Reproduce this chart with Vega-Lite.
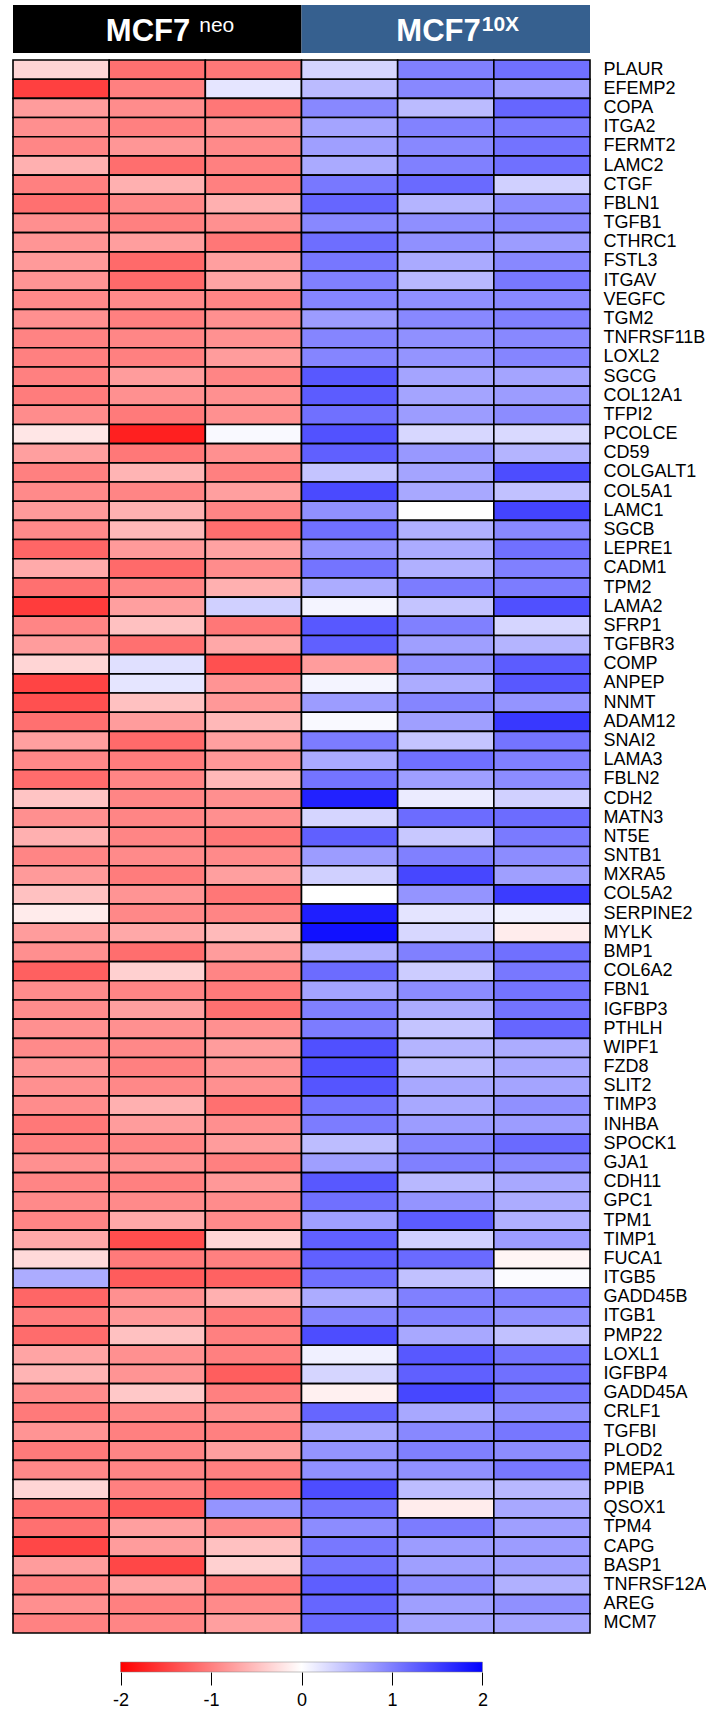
{
  "$schema": "https://vega.github.io/schema/vega-lite/v6.json",
  "background": "white",
  "padding": {"left": 12, "top": 5, "right": 0, "bottom": 0},
  "config": {"view": {"stroke": null}, "font": "Liberation Sans"},
  "bounds": "full",
  "spacing": 27,
  "vconcat": [
    {
      "bounds": "flush",
      "spacing": 7,
      "vconcat": [
        {
          "width": 577,
          "height": 48,
          "data": {"values": [
            {"group": "neo", "name": "MCF7", "sup": "neo"},
            {"group": "10X", "name": "MCF7", "sup": "10X"}
          ]},
          "encoding": {
            "x": {"field": "group", "type": "nominal", "sort": null, "axis": null,
                  "scale": {"paddingInner": 0, "paddingOuter": 0}}
          },
          "layer": [
            {
              "mark": {"type": "rect"},
              "encoding": {
                "color": {"field": "group", "type": "nominal",
                          "scale": {"domain": ["neo", "10X"], "range": ["#000000", "#36608f"]},
                          "legend": null}
              }
            },
            {
              "transform": [{"filter": "datum.group === 'neo'"}],
              "mark": {"type": "text", "align": "right", "baseline": "alphabetic", "dx": 33, "dy": 12,
                       "fontSize": 31, "fontWeight": "bold", "color": "white", "font": "Liberation Sans"},
              "encoding": {"text": {"field": "name"}}
            },
            {
              "transform": [{"filter": "datum.group === '10X'"}],
              "mark": {"type": "text", "align": "right", "baseline": "alphabetic", "dx": 35, "dy": 12,
                       "fontSize": 31, "fontWeight": "bold", "color": "white", "font": "Liberation Sans"},
              "encoding": {"text": {"field": "name"}}
            },
            {
              "transform": [{"filter": "datum.group === 'neo'"}],
              "mark": {"type": "text", "align": "left", "baseline": "alphabetic", "dx": 42, "dy": 3,
                       "fontSize": 21, "color": "white", "font": "Liberation Sans"},
              "encoding": {"text": {"field": "sup"}}
            },
            {
              "transform": [{"filter": "datum.group === '10X'"}],
              "mark": {"type": "text", "align": "left", "baseline": "alphabetic", "dx": 36, "dy": 2,
                       "fontSize": 21, "fontWeight": "bold", "color": "white", "font": "Liberation Sans"},
              "encoding": {"text": {"field": "sup"}}
            }
          ]
        },
        {
          "width": 577,
          "height": 1573,
          "data": {"values": [
{"gene":"PLAUR","sample":"neo_1","z":-0.33},{"gene":"PLAUR","sample":"neo_2","z":-1.12},{"gene":"PLAUR","sample":"neo_3","z":-1.06},{"gene":"PLAUR","sample":"10X_1","z":0.33},{"gene":"PLAUR","sample":"10X_2","z":1.0},{"gene":"PLAUR","sample":"10X_3","z":1.12},
{"gene":"EFEMP2","sample":"neo_1","z":-1.5},{"gene":"EFEMP2","sample":"neo_2","z":-1.0},{"gene":"EFEMP2","sample":"neo_3","z":0.2},{"gene":"EFEMP2","sample":"10X_1","z":0.53},{"gene":"EFEMP2","sample":"10X_2","z":0.93},{"gene":"EFEMP2","sample":"10X_3","z":0.75},
{"gene":"COPA","sample":"neo_1","z":-0.78},{"gene":"COPA","sample":"neo_2","z":-0.9},{"gene":"COPA","sample":"neo_3","z":-1.07},{"gene":"COPA","sample":"10X_1","z":0.93},{"gene":"COPA","sample":"10X_2","z":0.53},{"gene":"COPA","sample":"10X_3","z":1.2},
{"gene":"ITGA2","sample":"neo_1","z":-0.88},{"gene":"ITGA2","sample":"neo_2","z":-1.0},{"gene":"ITGA2","sample":"neo_3","z":-0.88},{"gene":"ITGA2","sample":"10X_1","z":0.71},{"gene":"ITGA2","sample":"10X_2","z":0.98},{"gene":"ITGA2","sample":"10X_3","z":1.04},
{"gene":"FERMT2","sample":"neo_1","z":-0.95},{"gene":"FERMT2","sample":"neo_2","z":-0.82},{"gene":"FERMT2","sample":"neo_3","z":-0.92},{"gene":"FERMT2","sample":"10X_1","z":0.75},{"gene":"FERMT2","sample":"10X_2","z":0.93},{"gene":"FERMT2","sample":"10X_3","z":1.1},
{"gene":"LAMC2","sample":"neo_1","z":-0.62},{"gene":"LAMC2","sample":"neo_2","z":-1.14},{"gene":"LAMC2","sample":"neo_3","z":-1.0},{"gene":"LAMC2","sample":"10X_1","z":0.67},{"gene":"LAMC2","sample":"10X_2","z":1.0},{"gene":"LAMC2","sample":"10X_3","z":1.12},
{"gene":"CTGF","sample":"neo_1","z":-1.0},{"gene":"CTGF","sample":"neo_2","z":-0.62},{"gene":"CTGF","sample":"neo_3","z":-1.0},{"gene":"CTGF","sample":"10X_1","z":1.06},{"gene":"CTGF","sample":"10X_2","z":1.17},{"gene":"CTGF","sample":"10X_3","z":0.37},
{"gene":"FBLN1","sample":"neo_1","z":-1.12},{"gene":"FBLN1","sample":"neo_2","z":-0.93},{"gene":"FBLN1","sample":"neo_3","z":-0.62},{"gene":"FBLN1","sample":"10X_1","z":1.2},{"gene":"FBLN1","sample":"10X_2","z":0.59},{"gene":"FBLN1","sample":"10X_3","z":0.9},
{"gene":"TGFB1","sample":"neo_1","z":-0.88},{"gene":"TGFB1","sample":"neo_2","z":-1.0},{"gene":"TGFB1","sample":"neo_3","z":-0.87},{"gene":"TGFB1","sample":"10X_1","z":0.93},{"gene":"TGFB1","sample":"10X_2","z":0.88},{"gene":"TGFB1","sample":"10X_3","z":0.93},
{"gene":"CTHRC1","sample":"neo_1","z":-0.83},{"gene":"CTHRC1","sample":"neo_2","z":-0.76},{"gene":"CTHRC1","sample":"neo_3","z":-1.07},{"gene":"CTHRC1","sample":"10X_1","z":1.14},{"gene":"CTHRC1","sample":"10X_2","z":0.87},{"gene":"CTHRC1","sample":"10X_3","z":0.78},
{"gene":"FSTL3","sample":"neo_1","z":-0.79},{"gene":"FSTL3","sample":"neo_2","z":-1.17},{"gene":"FSTL3","sample":"neo_3","z":-0.75},{"gene":"FSTL3","sample":"10X_1","z":1.07},{"gene":"FSTL3","sample":"10X_2","z":0.67},{"gene":"FSTL3","sample":"10X_3","z":0.93},
{"gene":"ITGAV","sample":"neo_1","z":-0.84},{"gene":"ITGAV","sample":"neo_2","z":-1.17},{"gene":"ITGAV","sample":"neo_3","z":-0.71},{"gene":"ITGAV","sample":"10X_1","z":1.0},{"gene":"ITGAV","sample":"10X_2","z":0.56},{"gene":"ITGAV","sample":"10X_3","z":1.06},
{"gene":"VEGFC","sample":"neo_1","z":-0.92},{"gene":"VEGFC","sample":"neo_2","z":-0.92},{"gene":"VEGFC","sample":"neo_3","z":-0.96},{"gene":"VEGFC","sample":"10X_1","z":0.96},{"gene":"VEGFC","sample":"10X_2","z":0.87},{"gene":"VEGFC","sample":"10X_3","z":0.93},
{"gene":"TGM2","sample":"neo_1","z":-0.87},{"gene":"TGM2","sample":"neo_2","z":-1.0},{"gene":"TGM2","sample":"neo_3","z":-0.87},{"gene":"TGM2","sample":"10X_1","z":0.78},{"gene":"TGM2","sample":"10X_2","z":0.93},{"gene":"TGM2","sample":"10X_3","z":1.0},
{"gene":"TNFRSF11B","sample":"neo_1","z":-0.97},{"gene":"TNFRSF11B","sample":"neo_2","z":-0.95},{"gene":"TNFRSF11B","sample":"neo_3","z":-0.86},{"gene":"TNFRSF11B","sample":"10X_1","z":0.96},{"gene":"TNFRSF11B","sample":"10X_2","z":0.87},{"gene":"TNFRSF11B","sample":"10X_3","z":0.93},
{"gene":"LOXL2","sample":"neo_1","z":-1.0},{"gene":"LOXL2","sample":"neo_2","z":-1.0},{"gene":"LOXL2","sample":"neo_3","z":-0.78},{"gene":"LOXL2","sample":"10X_1","z":0.96},{"gene":"LOXL2","sample":"10X_2","z":0.84},{"gene":"LOXL2","sample":"10X_3","z":0.96},
{"gene":"SGCG","sample":"neo_1","z":-1.0},{"gene":"SGCG","sample":"neo_2","z":-0.78},{"gene":"SGCG","sample":"neo_3","z":-0.96},{"gene":"SGCG","sample":"10X_1","z":1.31},{"gene":"SGCG","sample":"10X_2","z":0.71},{"gene":"SGCG","sample":"10X_3","z":0.71},
{"gene":"COL12A1","sample":"neo_1","z":-1.03},{"gene":"COL12A1","sample":"neo_2","z":-0.87},{"gene":"COL12A1","sample":"neo_3","z":-0.87},{"gene":"COL12A1","sample":"10X_1","z":1.28},{"gene":"COL12A1","sample":"10X_2","z":0.71},{"gene":"COL12A1","sample":"10X_3","z":0.78},
{"gene":"TFPI2","sample":"neo_1","z":-0.9},{"gene":"TFPI2","sample":"neo_2","z":-1.04},{"gene":"TFPI2","sample":"neo_3","z":-0.87},{"gene":"TFPI2","sample":"10X_1","z":1.12},{"gene":"TFPI2","sample":"10X_2","z":0.78},{"gene":"TFPI2","sample":"10X_3","z":0.9},
{"gene":"PCOLCE","sample":"neo_1","z":-0.2},{"gene":"PCOLCE","sample":"neo_2","z":-1.75},{"gene":"PCOLCE","sample":"neo_3","z":0.05},{"gene":"PCOLCE","sample":"10X_1","z":1.36},{"gene":"PCOLCE","sample":"10X_2","z":0.31},{"gene":"PCOLCE","sample":"10X_3","z":0.3},
{"gene":"CD59","sample":"neo_1","z":-0.75},{"gene":"CD59","sample":"neo_2","z":-1.06},{"gene":"CD59","sample":"neo_3","z":-0.87},{"gene":"CD59","sample":"10X_1","z":1.25},{"gene":"CD59","sample":"10X_2","z":0.81},{"gene":"CD59","sample":"10X_3","z":0.59},
{"gene":"COLGALT1","sample":"neo_1","z":-1.0},{"gene":"COLGALT1","sample":"neo_2","z":-0.59},{"gene":"COLGALT1","sample":"neo_3","z":-1.0},{"gene":"COLGALT1","sample":"10X_1","z":0.46},{"gene":"COLGALT1","sample":"10X_2","z":0.71},{"gene":"COLGALT1","sample":"10X_3","z":1.4},
{"gene":"COL5A1","sample":"neo_1","z":-0.92},{"gene":"COL5A1","sample":"neo_2","z":-0.96},{"gene":"COL5A1","sample":"neo_3","z":-0.75},{"gene":"COL5A1","sample":"10X_1","z":1.42},{"gene":"COL5A1","sample":"10X_2","z":0.68},{"gene":"COL5A1","sample":"10X_3","z":0.49},
{"gene":"LAMC1","sample":"neo_1","z":-0.79},{"gene":"LAMC1","sample":"neo_2","z":-0.62},{"gene":"LAMC1","sample":"neo_3","z":-0.96},{"gene":"LAMC1","sample":"10X_1","z":0.87},{"gene":"LAMC1","sample":"10X_2","z":0.0},{"gene":"LAMC1","sample":"10X_3","z":1.47},
{"gene":"SGCB","sample":"neo_1","z":-0.92},{"gene":"SGCB","sample":"neo_2","z":-0.56},{"gene":"SGCB","sample":"neo_3","z":-1.14},{"gene":"SGCB","sample":"10X_1","z":1.12},{"gene":"SGCB","sample":"10X_2","z":0.62},{"gene":"SGCB","sample":"10X_3","z":0.93},
{"gene":"LEPRE1","sample":"neo_1","z":-1.2},{"gene":"LEPRE1","sample":"neo_2","z":-0.79},{"gene":"LEPRE1","sample":"neo_3","z":-0.73},{"gene":"LEPRE1","sample":"10X_1","z":0.84},{"gene":"LEPRE1","sample":"10X_2","z":0.65},{"gene":"LEPRE1","sample":"10X_3","z":1.12},
{"gene":"CADM1","sample":"neo_1","z":-0.67},{"gene":"CADM1","sample":"neo_2","z":-1.17},{"gene":"CADM1","sample":"neo_3","z":-0.9},{"gene":"CADM1","sample":"10X_1","z":1.09},{"gene":"CADM1","sample":"10X_2","z":0.62},{"gene":"CADM1","sample":"10X_3","z":1.0},
{"gene":"TPM2","sample":"neo_1","z":-1.12},{"gene":"TPM2","sample":"neo_2","z":-0.96},{"gene":"TPM2","sample":"neo_3","z":-0.62},{"gene":"TPM2","sample":"10X_1","z":0.65},{"gene":"TPM2","sample":"10X_2","z":1.03},{"gene":"TPM2","sample":"10X_3","z":1.03},
{"gene":"LAMA2","sample":"neo_1","z":-1.53},{"gene":"LAMA2","sample":"neo_2","z":-0.75},{"gene":"LAMA2","sample":"neo_3","z":0.37},{"gene":"LAMA2","sample":"10X_1","z":0.09},{"gene":"LAMA2","sample":"10X_2","z":0.46},{"gene":"LAMA2","sample":"10X_3","z":1.37},
{"gene":"SFRP1","sample":"neo_1","z":-0.96},{"gene":"SFRP1","sample":"neo_2","z":-0.49},{"gene":"SFRP1","sample":"neo_3","z":-1.07},{"gene":"SFRP1","sample":"10X_1","z":1.31},{"gene":"SFRP1","sample":"10X_2","z":1.0},{"gene":"SFRP1","sample":"10X_3","z":0.33},
{"gene":"TGFBR3","sample":"neo_1","z":-0.78},{"gene":"TGFBR3","sample":"neo_2","z":-1.12},{"gene":"TGFBR3","sample":"neo_3","z":-0.68},{"gene":"TGFBR3","sample":"10X_1","z":1.25},{"gene":"TGFBR3","sample":"10X_2","z":0.75},{"gene":"TGFBR3","sample":"10X_3","z":0.59},
{"gene":"COMP","sample":"neo_1","z":-0.33},{"gene":"COMP","sample":"neo_2","z":0.24},{"gene":"COMP","sample":"neo_3","z":-1.37},{"gene":"COMP","sample":"10X_1","z":-0.78},{"gene":"COMP","sample":"10X_2","z":0.87},{"gene":"COMP","sample":"10X_3","z":1.28},
{"gene":"ANPEP","sample":"neo_1","z":-1.47},{"gene":"ANPEP","sample":"neo_2","z":0.2},{"gene":"ANPEP","sample":"neo_3","z":-0.84},{"gene":"ANPEP","sample":"10X_1","z":0.09},{"gene":"ANPEP","sample":"10X_2","z":0.65},{"gene":"ANPEP","sample":"10X_3","z":1.31},
{"gene":"NNMT","sample":"neo_1","z":-1.37},{"gene":"NNMT","sample":"neo_2","z":-0.49},{"gene":"NNMT","sample":"neo_3","z":-0.81},{"gene":"NNMT","sample":"10X_1","z":0.78},{"gene":"NNMT","sample":"10X_2","z":0.96},{"gene":"NNMT","sample":"10X_3","z":0.84},
{"gene":"ADAM12","sample":"neo_1","z":-1.12},{"gene":"ADAM12","sample":"neo_2","z":-0.78},{"gene":"ADAM12","sample":"neo_3","z":-0.56},{"gene":"ADAM12","sample":"10X_1","z":0.05},{"gene":"ADAM12","sample":"10X_2","z":0.75},{"gene":"ADAM12","sample":"10X_3","z":1.56},
{"gene":"SNAI2","sample":"neo_1","z":-0.75},{"gene":"SNAI2","sample":"neo_2","z":-1.17},{"gene":"SNAI2","sample":"neo_3","z":-0.75},{"gene":"SNAI2","sample":"10X_1","z":1.03},{"gene":"SNAI2","sample":"10X_2","z":0.46},{"gene":"SNAI2","sample":"10X_3","z":1.09},
{"gene":"LAMA3","sample":"neo_1","z":-0.93},{"gene":"LAMA3","sample":"neo_2","z":-1.03},{"gene":"LAMA3","sample":"neo_3","z":-0.81},{"gene":"LAMA3","sample":"10X_1","z":0.67},{"gene":"LAMA3","sample":"10X_2","z":1.12},{"gene":"LAMA3","sample":"10X_3","z":1.0},
{"gene":"FBLN2","sample":"neo_1","z":-1.15},{"gene":"FBLN2","sample":"neo_2","z":-0.96},{"gene":"FBLN2","sample":"neo_3","z":-0.56},{"gene":"FBLN2","sample":"10X_1","z":1.09},{"gene":"FBLN2","sample":"10X_2","z":0.75},{"gene":"FBLN2","sample":"10X_3","z":0.9},
{"gene":"CDH2","sample":"neo_1","z":-0.46},{"gene":"CDH2","sample":"neo_2","z":-0.96},{"gene":"CDH2","sample":"neo_3","z":-0.88},{"gene":"CDH2","sample":"10X_1","z":1.73},{"gene":"CDH2","sample":"10X_2","z":0.16},{"gene":"CDH2","sample":"10X_3","z":0.37},
{"gene":"MATN3","sample":"neo_1","z":-0.88},{"gene":"MATN3","sample":"neo_2","z":-0.96},{"gene":"MATN3","sample":"neo_3","z":-0.88},{"gene":"MATN3","sample":"10X_1","z":0.33},{"gene":"MATN3","sample":"10X_2","z":1.15},{"gene":"MATN3","sample":"10X_3","z":1.15},
{"gene":"NT5E","sample":"neo_1","z":-0.62},{"gene":"NT5E","sample":"neo_2","z":-0.96},{"gene":"NT5E","sample":"neo_3","z":-1.06},{"gene":"NT5E","sample":"10X_1","z":1.25},{"gene":"NT5E","sample":"10X_2","z":0.43},{"gene":"NT5E","sample":"10X_3","z":1.04},
{"gene":"SNTB1","sample":"neo_1","z":-0.96},{"gene":"SNTB1","sample":"neo_2","z":-0.92},{"gene":"SNTB1","sample":"neo_3","z":-0.92},{"gene":"SNTB1","sample":"10X_1","z":0.78},{"gene":"SNTB1","sample":"10X_2","z":1.0},{"gene":"SNTB1","sample":"10X_3","z":0.9},
{"gene":"MXRA5","sample":"neo_1","z":-0.79},{"gene":"MXRA5","sample":"neo_2","z":-1.03},{"gene":"MXRA5","sample":"neo_3","z":-0.75},{"gene":"MXRA5","sample":"10X_1","z":0.37},{"gene":"MXRA5","sample":"10X_2","z":1.44},{"gene":"MXRA5","sample":"10X_3","z":0.75},
{"gene":"COL5A2","sample":"neo_1","z":-0.49},{"gene":"COL5A2","sample":"neo_2","z":-0.84},{"gene":"COL5A2","sample":"neo_3","z":-1.07},{"gene":"COL5A2","sample":"10X_1","z":0.0},{"gene":"COL5A2","sample":"10X_2","z":0.84},{"gene":"COL5A2","sample":"10X_3","z":1.53},
{"gene":"SERPINE2","sample":"neo_1","z":-0.16},{"gene":"SERPINE2","sample":"neo_2","z":-0.93},{"gene":"SERPINE2","sample":"neo_3","z":-0.96},{"gene":"SERPINE2","sample":"10X_1","z":1.76},{"gene":"SERPINE2","sample":"10X_2","z":0.21},{"gene":"SERPINE2","sample":"10X_3","z":0.12},
{"gene":"MYLK","sample":"neo_1","z":-0.78},{"gene":"MYLK","sample":"neo_2","z":-0.68},{"gene":"MYLK","sample":"neo_3","z":-0.54},{"gene":"MYLK","sample":"10X_1","z":1.87},{"gene":"MYLK","sample":"10X_2","z":0.31},{"gene":"MYLK","sample":"10X_3","z":-0.15},
{"gene":"BMP1","sample":"neo_1","z":-0.88},{"gene":"BMP1","sample":"neo_2","z":-1.14},{"gene":"BMP1","sample":"neo_3","z":-0.78},{"gene":"BMP1","sample":"10X_1","z":0.62},{"gene":"BMP1","sample":"10X_2","z":1.0},{"gene":"BMP1","sample":"10X_3","z":1.12},
{"gene":"COL6A2","sample":"neo_1","z":-1.25},{"gene":"COL6A2","sample":"neo_2","z":-0.37},{"gene":"COL6A2","sample":"neo_3","z":-0.96},{"gene":"COL6A2","sample":"10X_1","z":1.15},{"gene":"COL6A2","sample":"10X_2","z":0.4},{"gene":"COL6A2","sample":"10X_3","z":1.06},
{"gene":"FBN1","sample":"neo_1","z":-0.9},{"gene":"FBN1","sample":"neo_2","z":-0.96},{"gene":"FBN1","sample":"neo_3","z":-1.04},{"gene":"FBN1","sample":"10X_1","z":0.71},{"gene":"FBN1","sample":"10X_2","z":0.9},{"gene":"FBN1","sample":"10X_3","z":1.09},
{"gene":"IGFBP3","sample":"neo_1","z":-0.9},{"gene":"IGFBP3","sample":"neo_2","z":-0.75},{"gene":"IGFBP3","sample":"neo_3","z":-1.12},{"gene":"IGFBP3","sample":"10X_1","z":1.0},{"gene":"IGFBP3","sample":"10X_2","z":0.65},{"gene":"IGFBP3","sample":"10X_3","z":1.1},
{"gene":"PTHLH","sample":"neo_1","z":-0.87},{"gene":"PTHLH","sample":"neo_2","z":-0.87},{"gene":"PTHLH","sample":"neo_3","z":-0.87},{"gene":"PTHLH","sample":"10X_1","z":1.03},{"gene":"PTHLH","sample":"10X_2","z":0.46},{"gene":"PTHLH","sample":"10X_3","z":1.2},
{"gene":"WIPF1","sample":"neo_1","z":-0.92},{"gene":"WIPF1","sample":"neo_2","z":-0.93},{"gene":"WIPF1","sample":"neo_3","z":-0.78},{"gene":"WIPF1","sample":"10X_1","z":1.37},{"gene":"WIPF1","sample":"10X_2","z":0.59},{"gene":"WIPF1","sample":"10X_3","z":0.65},
{"gene":"FZD8","sample":"neo_1","z":-0.84},{"gene":"FZD8","sample":"neo_2","z":-1.0},{"gene":"FZD8","sample":"neo_3","z":-0.84},{"gene":"FZD8","sample":"10X_1","z":1.37},{"gene":"FZD8","sample":"10X_2","z":0.53},{"gene":"FZD8","sample":"10X_3","z":0.68},
{"gene":"SLIT2","sample":"neo_1","z":-0.87},{"gene":"SLIT2","sample":"neo_2","z":-0.93},{"gene":"SLIT2","sample":"neo_3","z":-0.87},{"gene":"SLIT2","sample":"10X_1","z":1.33},{"gene":"SLIT2","sample":"10X_2","z":0.68},{"gene":"SLIT2","sample":"10X_3","z":0.71},
{"gene":"TIMP3","sample":"neo_1","z":-0.9},{"gene":"TIMP3","sample":"neo_2","z":-0.62},{"gene":"TIMP3","sample":"neo_3","z":-1.12},{"gene":"TIMP3","sample":"10X_1","z":1.09},{"gene":"TIMP3","sample":"10X_2","z":0.68},{"gene":"TIMP3","sample":"10X_3","z":0.87},
{"gene":"INHBA","sample":"neo_1","z":-1.06},{"gene":"INHBA","sample":"neo_2","z":-0.78},{"gene":"INHBA","sample":"neo_3","z":-0.88},{"gene":"INHBA","sample":"10X_1","z":1.03},{"gene":"INHBA","sample":"10X_2","z":0.78},{"gene":"INHBA","sample":"10X_3","z":0.78},
{"gene":"SPOCK1","sample":"neo_1","z":-1.0},{"gene":"SPOCK1","sample":"neo_2","z":-0.96},{"gene":"SPOCK1","sample":"neo_3","z":-0.78},{"gene":"SPOCK1","sample":"10X_1","z":0.52},{"gene":"SPOCK1","sample":"10X_2","z":0.96},{"gene":"SPOCK1","sample":"10X_3","z":1.17},
{"gene":"GJA1","sample":"neo_1","z":-0.87},{"gene":"GJA1","sample":"neo_2","z":-0.88},{"gene":"GJA1","sample":"neo_3","z":-1.0},{"gene":"GJA1","sample":"10X_1","z":0.75},{"gene":"GJA1","sample":"10X_2","z":1.0},{"gene":"GJA1","sample":"10X_3","z":0.93},
{"gene":"CDH11","sample":"neo_1","z":-0.96},{"gene":"CDH11","sample":"neo_2","z":-1.0},{"gene":"CDH11","sample":"neo_3","z":-0.81},{"gene":"CDH11","sample":"10X_1","z":1.31},{"gene":"CDH11","sample":"10X_2","z":0.56},{"gene":"CDH11","sample":"10X_3","z":0.68},
{"gene":"GPC1","sample":"neo_1","z":-0.92},{"gene":"GPC1","sample":"neo_2","z":-0.92},{"gene":"GPC1","sample":"neo_3","z":-0.9},{"gene":"GPC1","sample":"10X_1","z":1.12},{"gene":"GPC1","sample":"10X_2","z":0.84},{"gene":"GPC1","sample":"10X_3","z":0.65},
{"gene":"TPM1","sample":"neo_1","z":-0.96},{"gene":"TPM1","sample":"neo_2","z":-0.68},{"gene":"TPM1","sample":"neo_3","z":-0.92},{"gene":"TPM1","sample":"10X_1","z":0.75},{"gene":"TPM1","sample":"10X_2","z":1.28},{"gene":"TPM1","sample":"10X_3","z":0.62},
{"gene":"TIMP1","sample":"neo_1","z":-0.68},{"gene":"TIMP1","sample":"neo_2","z":-1.4},{"gene":"TIMP1","sample":"neo_3","z":-0.33},{"gene":"TIMP1","sample":"10X_1","z":1.25},{"gene":"TIMP1","sample":"10X_2","z":0.37},{"gene":"TIMP1","sample":"10X_3","z":0.78},
{"gene":"FUCA1","sample":"neo_1","z":-0.3},{"gene":"FUCA1","sample":"neo_2","z":-1.04},{"gene":"FUCA1","sample":"neo_3","z":-1.0},{"gene":"FUCA1","sample":"10X_1","z":1.25},{"gene":"FUCA1","sample":"10X_2","z":1.17},{"gene":"FUCA1","sample":"10X_3","z":-0.08},
{"gene":"ITGB5","sample":"neo_1","z":0.65},{"gene":"ITGB5","sample":"neo_2","z":-1.28},{"gene":"ITGB5","sample":"neo_3","z":-1.23},{"gene":"ITGB5","sample":"10X_1","z":1.12},{"gene":"ITGB5","sample":"10X_2","z":0.49},{"gene":"ITGB5","sample":"10X_3","z":0.03},
{"gene":"GADD45B","sample":"neo_1","z":-1.2},{"gene":"GADD45B","sample":"neo_2","z":-0.87},{"gene":"GADD45B","sample":"neo_3","z":-0.62},{"gene":"GADD45B","sample":"10X_1","z":0.65},{"gene":"GADD45B","sample":"10X_2","z":1.0},{"gene":"GADD45B","sample":"10X_3","z":1.0},
{"gene":"ITGB1","sample":"neo_1","z":-1.03},{"gene":"ITGB1","sample":"neo_2","z":-0.81},{"gene":"ITGB1","sample":"neo_3","z":-1.04},{"gene":"ITGB1","sample":"10X_1","z":0.96},{"gene":"ITGB1","sample":"10X_2","z":1.0},{"gene":"ITGB1","sample":"10X_3","z":0.87},
{"gene":"PMP22","sample":"neo_1","z":-1.15},{"gene":"PMP22","sample":"neo_2","z":-0.49},{"gene":"PMP22","sample":"neo_3","z":-1.0},{"gene":"PMP22","sample":"10X_1","z":1.4},{"gene":"PMP22","sample":"10X_2","z":0.68},{"gene":"PMP22","sample":"10X_3","z":0.49},
{"gene":"LOXL1","sample":"neo_1","z":-0.71},{"gene":"LOXL1","sample":"neo_2","z":-0.87},{"gene":"LOXL1","sample":"neo_3","z":-1.0},{"gene":"LOXL1","sample":"10X_1","z":0.12},{"gene":"LOXL1","sample":"10X_2","z":1.31},{"gene":"LOXL1","sample":"10X_3","z":1.09},
{"gene":"IGFBP4","sample":"neo_1","z":-0.59},{"gene":"IGFBP4","sample":"neo_2","z":-0.84},{"gene":"IGFBP4","sample":"neo_3","z":-1.26},{"gene":"IGFBP4","sample":"10X_1","z":0.33},{"gene":"IGFBP4","sample":"10X_2","z":1.25},{"gene":"IGFBP4","sample":"10X_3","z":1.12},
{"gene":"GADD45A","sample":"neo_1","z":-0.9},{"gene":"GADD45A","sample":"neo_2","z":-0.43},{"gene":"GADD45A","sample":"neo_3","z":-1.0},{"gene":"GADD45A","sample":"10X_1","z":-0.12},{"gene":"GADD45A","sample":"10X_2","z":1.44},{"gene":"GADD45A","sample":"10X_3","z":1.07},
{"gene":"CRLF1","sample":"neo_1","z":-1.04},{"gene":"CRLF1","sample":"neo_2","z":-0.93},{"gene":"CRLF1","sample":"neo_3","z":-0.88},{"gene":"CRLF1","sample":"10X_1","z":1.2},{"gene":"CRLF1","sample":"10X_2","z":0.68},{"gene":"CRLF1","sample":"10X_3","z":0.87},
{"gene":"TGFBI","sample":"neo_1","z":-0.84},{"gene":"TGFBI","sample":"neo_2","z":-1.0},{"gene":"TGFBI","sample":"neo_3","z":-1.0},{"gene":"TGFBI","sample":"10X_1","z":0.68},{"gene":"TGFBI","sample":"10X_2","z":0.93},{"gene":"TGFBI","sample":"10X_3","z":1.07},
{"gene":"PLOD2","sample":"neo_1","z":-1.04},{"gene":"PLOD2","sample":"neo_2","z":-0.96},{"gene":"PLOD2","sample":"neo_3","z":-0.75},{"gene":"PLOD2","sample":"10X_1","z":0.84},{"gene":"PLOD2","sample":"10X_2","z":1.0},{"gene":"PLOD2","sample":"10X_3","z":0.9},
{"gene":"PMEPA1","sample":"neo_1","z":-0.93},{"gene":"PMEPA1","sample":"neo_2","z":-0.96},{"gene":"PMEPA1","sample":"neo_3","z":-1.0},{"gene":"PMEPA1","sample":"10X_1","z":0.87},{"gene":"PMEPA1","sample":"10X_2","z":0.87},{"gene":"PMEPA1","sample":"10X_3","z":1.06},
{"gene":"PPIB","sample":"neo_1","z":-0.33},{"gene":"PPIB","sample":"neo_2","z":-1.0},{"gene":"PPIB","sample":"neo_3","z":-1.15},{"gene":"PPIB","sample":"10X_1","z":1.4},{"gene":"PPIB","sample":"10X_2","z":0.52},{"gene":"PPIB","sample":"10X_3","z":0.56},
{"gene":"QSOX1","sample":"neo_1","z":-1.12},{"gene":"QSOX1","sample":"neo_2","z":-1.29},{"gene":"QSOX1","sample":"neo_3","z":0.84},{"gene":"QSOX1","sample":"10X_1","z":1.09},{"gene":"QSOX1","sample":"10X_2","z":-0.15},{"gene":"QSOX1","sample":"10X_3","z":0.68},
{"gene":"TPM4","sample":"neo_1","z":-1.12},{"gene":"TPM4","sample":"neo_2","z":-0.75},{"gene":"TPM4","sample":"neo_3","z":-0.92},{"gene":"TPM4","sample":"10X_1","z":0.9},{"gene":"TPM4","sample":"10X_2","z":1.03},{"gene":"TPM4","sample":"10X_3","z":0.75},
{"gene":"CAPG","sample":"neo_1","z":-1.44},{"gene":"CAPG","sample":"neo_2","z":-0.78},{"gene":"CAPG","sample":"neo_3","z":-0.49},{"gene":"CAPG","sample":"10X_1","z":1.06},{"gene":"CAPG","sample":"10X_2","z":0.78},{"gene":"CAPG","sample":"10X_3","z":0.78},
{"gene":"BASP1","sample":"neo_1","z":-0.78},{"gene":"BASP1","sample":"neo_2","z":-1.44},{"gene":"BASP1","sample":"neo_3","z":-0.37},{"gene":"BASP1","sample":"10X_1","z":1.09},{"gene":"BASP1","sample":"10X_2","z":0.75},{"gene":"BASP1","sample":"10X_3","z":0.75},
{"gene":"TNFRSF12A","sample":"neo_1","z":-1.0},{"gene":"TNFRSF12A","sample":"neo_2","z":-0.71},{"gene":"TNFRSF12A","sample":"neo_3","z":-1.04},{"gene":"TNFRSF12A","sample":"10X_1","z":1.26},{"gene":"TNFRSF12A","sample":"10X_2","z":0.9},{"gene":"TNFRSF12A","sample":"10X_3","z":0.62},
{"gene":"AREG","sample":"neo_1","z":-0.88},{"gene":"AREG","sample":"neo_2","z":-1.0},{"gene":"AREG","sample":"neo_3","z":-0.92},{"gene":"AREG","sample":"10X_1","z":1.2},{"gene":"AREG","sample":"10X_2","z":0.75},{"gene":"AREG","sample":"10X_3","z":0.87},
{"gene":"MCM7","sample":"neo_1","z":-0.98},{"gene":"MCM7","sample":"neo_2","z":-0.96},{"gene":"MCM7","sample":"neo_3","z":-0.75},{"gene":"MCM7","sample":"10X_1","z":1.17},{"gene":"MCM7","sample":"10X_2","z":0.71},{"gene":"MCM7","sample":"10X_3","z":0.71}
          ]},
          "mark": {"type": "rect", "stroke": "black", "strokeWidth": 1.6},
          "encoding": {
            "x": {"field": "sample", "type": "nominal", "sort": null, "axis": null,
                  "scale": {"paddingInner": 0, "paddingOuter": 0}},
            "y": {"field": "gene", "type": "nominal", "sort": null, "title": null,
                  "scale": {"paddingInner": 0, "paddingOuter": 0},
                  "axis": {"orient": "right", "ticks": false, "domain": false, "labelPadding": 13,
                           "labelFontSize": 18, "labelColor": "black", "labelFont": "Liberation Sans",
                           "labelOverlap": false, "labelLimit": 0}},
            "color": {"field": "z", "type": "quantitative",
                      "scale": {"domain": [-2, 0, 2], "range": ["#ff0000", "#ffffff", "#0000ff"], "interpolate": "rgb"},
                      "legend": null}
          }
        }
      ]
    },
    {
      "width": 577,
      "height": 10,
      "data": {"values": [{"lo": -2, "hi": 2}]},
      "mark": {
        "type": "rect",
        "fill": {"gradient": "linear", "x1": 0, "y1": 0, "x2": 1, "y2": 0,
                 "stops": [{"offset": 0, "color": "#ff0000"}, {"offset": 0.5, "color": "#ffffff"}, {"offset": 1, "color": "#0000ff"}]},
        "stroke": "#808080",
        "strokeWidth": 0.5
      },
      "encoding": {
        "x": {"field": "lo", "type": "quantitative",
              "scale": {"domain": [-3.188, 3.188], "nice": false, "zero": false},
              "axis": {"values": [-2, -1, 0, 1, 2], "tickSize": 13, "tickColor": "black", "tickWidth": 1,
                       "domain": false, "grid": false, "labelFontSize": 18, "labelColor": "black",
                       "labelFont": "Liberation Sans", "labelPadding": 6, "title": null,
                       "labelExpr": "datum.value + ''"}},
        "x2": {"field": "hi"}
      }
    }
  ]
}
